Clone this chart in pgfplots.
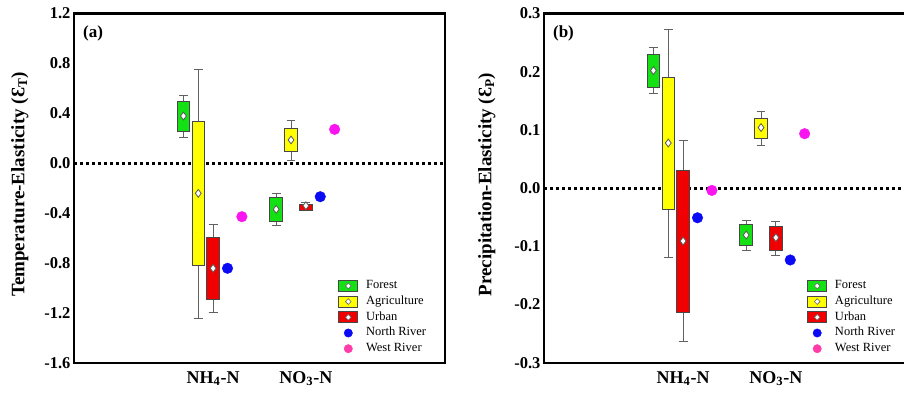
\documentclass[border=0pt]{standalone}
\usepackage{fontspec}
\setmainfont{Liberation Serif}
\usepackage{pgfplots}
\pgfplotsset{compat=1.18}
\usepgfplotslibrary{statistics}
\definecolor{fgreen}{RGB}{20,225,20}
\definecolor{fyellow}{RGB}{255,255,0}
\definecolor{fred}{RGB}{240,0,0}
\definecolor{fblue}{RGB}{10,10,245}
\definecolor{fmag}{RGB}{250,20,240}
\definecolor{fpink}{RGB}{255,60,170}
\newcommand\fsz[1]{\fontsize{#1}{#1}\selectfont}
\pgfplotsset{
  common/.style={
    scale only axis, width=371pt, height=349.2pt,
    xmin=-0.5, xmax=3.5,
    xtick={1,2}, xticklabels={NH\textsubscript{4}-N, NO\textsubscript{3}-N},
    major tick length=0pt,
    axis line style={line width=2.4pt},
    yticklabel style={font=\bfseries\fsz{16.5}, /pgf/number format/.cd, fixed, fixed zerofill, precision=1, assume math mode=true},
    xticklabel style={font=\bfseries\fsz{18}, yshift=-5pt},
    ylabel style={font=\bfseries\fsz{19}, anchor=center},
    legend style={draw=none, fill=none, inner sep=0pt, anchor=north west, font=\fsz{12.5},
      nodes={text height=9pt, text depth=3pt, inner sep=1.85pt},
      /tikz/every odd column/.append style={column sep=6pt}},
    legend cell align=left,
    boxplot/every median/.style={draw=none},
    boxplot/every whisker/.style={draw=black!62, line width=1pt},
  },
  bx/.style={forget plot, draw=black!72, line width=0.9pt, solid,
    boxplot prepared={draw direction=y, box extend=0.135, whisker extend=0.095, #1}},
  meanmk/.style={forget plot, only marks, mark=diamond*, mark size=3.9pt,
    mark options={fill=white, draw=black!65, line width=0.8pt}},
  north/.style={forget plot, only marks, mark=*, mark size=5.3pt, color=fblue},
  west/.style={forget plot, only marks, mark=*, mark size=5.3pt, color=fmag},
  legbox/.style={legend image code/.code={
     \draw[fill=#1, draw=black!72, line width=0.9pt] (0pt,-5.5pt) rectangle (19pt,5.5pt);
     \draw[fill=white, draw=black!60, line width=0.6pt] (9.5pt,2.9pt) -- (12.3pt,0pt) -- (9.5pt,-2.9pt) -- (6.7pt,0pt) -- cycle;}},
  legdot/.style={legend image code/.code={
     \fill[#1] (9.5pt,0pt) circle (4.2pt);}},
}
\begin{document}
\begin{tikzpicture}
\path[use as bounding box] (0pt,0pt) rectangle (904pt,399pt);
\clip (0pt,0pt) rectangle (904pt,399pt);
% ---------------- panel (a)
\begin{axis}[common, at={(74pt,36.3pt)}, anchor=south west,
  ymin=-1.6, ymax=1.2, ytick={-1.6,-1.2,-0.8,-0.4,0,0.4,0.8,1.2},
  ylabel={Temperature-Elasticity (Ɛ\textsubscript{T})},
  ylabel style={at={(axis description cs:-0.146,0.51)}},
  legend style={at={(0.712,0.243)}}]
\addplot[forget plot, black, line width=2.8pt, dash pattern=on 2.8pt off 3.2pt] coordinates {(-0.5,0) (3.5,0)};
\addplot[bx={draw position=0.68, lower whisker=0.204, lower quartile=0.258, median=0.378, upper quartile=0.493, upper whisker=0.541}, fill=fgreen] coordinates {};
\addplot[bx={draw position=0.84, lower whisker=-1.244, lower quartile=-0.817, median=-0.242, upper quartile=0.335, upper whisker=0.753}, fill=fyellow] coordinates {};
\addplot[bx={draw position=1.0, lower whisker=-1.196, lower quartile=-1.089, median=-0.843, upper quartile=-0.598, upper whisker=-0.491}, fill=fred] coordinates {};
\addplot[bx={draw position=1.68, lower whisker=-0.499, lower quartile=-0.467, median=-0.370, upper quartile=-0.277, upper whisker=-0.245}, fill=fgreen] coordinates {};
\addplot[bx={draw position=1.84, lower whisker=0.023, lower quartile=0.092, median=0.186, upper quartile=0.276, upper whisker=0.340}, fill=fyellow] coordinates {};
\addplot[bx={draw position=2.0, lower whisker=-0.376, lower quartile=-0.376, median=-0.341, upper quartile=-0.328, upper whisker=-0.314}, fill=fred] coordinates {};
\addplot[meanmk] coordinates {(0.68,0.378) (0.84,-0.242) (1.0,-0.843) (1.68,-0.370) (1.84,0.186) (2.0,-0.341)};
\addplot[north] coordinates {(1.155,-0.843) (2.155,-0.269)};
\addplot[west] coordinates {(1.31,-0.429) (2.31,0.271)};
\node[anchor=west, inner sep=0pt, font=\bfseries\fsz{17}] at (axis description cs:0.024,0.944) {(a)};
\addlegendimage{legbox=fgreen}\addlegendentry{Forest}
\addlegendimage{legbox=fyellow}\addlegendentry{Agriculture}
\addlegendimage{legbox=fred}\addlegendentry{Urban}
\addlegendimage{legdot=fblue}\addlegendentry{North River}
\addlegendimage{legdot=fpink}\addlegendentry{West River}
\end{axis}
% ---------------- panel (b)
\begin{axis}[common, at={(544pt,36.3pt)}, anchor=south west,
  ymin=-0.3, ymax=0.3, ytick={-0.3,-0.2,-0.1,0,0.1,0.2,0.3},
  ylabel={Precipitation-Elasticity (Ɛ\textsubscript{P})},
  ylabel style={at={(axis description cs:-0.154,0.51)}},
  legend style={at={(0.709,0.243)}}]
\addplot[forget plot, black, line width=2.8pt, dash pattern=on 2.8pt off 3.2pt] coordinates {(-0.5,0) (3.5,0)};
\addplot[bx={draw position=0.68, lower whisker=0.162, lower quartile=0.173, median=0.202, upper quartile=0.230, upper whisker=0.241}, fill=fgreen] coordinates {};
\addplot[bx={draw position=0.84, lower whisker=-0.119, lower quartile=-0.037, median=0.0775, upper quartile=0.190, upper whisker=0.273}, fill=fyellow] coordinates {};
\addplot[bx={draw position=1.0, lower whisker=-0.264, lower quartile=-0.214, median=-0.091, upper quartile=0.030, upper whisker=0.081}, fill=fred] coordinates {};
\addplot[bx={draw position=1.68, lower whisker=-0.107, lower quartile=-0.099, median=-0.0806, upper quartile=-0.062, upper whisker=-0.0565}, fill=fgreen] coordinates {};
\addplot[bx={draw position=1.84, lower whisker=0.073, lower quartile=0.085, median=0.104, upper quartile=0.119, upper whisker=0.131}, fill=fyellow] coordinates {};
\addplot[bx={draw position=2.0, lower whisker=-0.116, lower quartile=-0.107, median=-0.085, upper quartile=-0.066, upper whisker=-0.058}, fill=fred] coordinates {};
\addplot[meanmk] coordinates {(0.68,0.202) (0.84,0.0775) (1.0,-0.091) (1.68,-0.0806) (1.84,0.104) (2.0,-0.085)};
\addplot[north] coordinates {(1.155,-0.051) (2.155,-0.1235)};
\addplot[west] coordinates {(1.31,-0.004) (2.31,0.0935)};
\node[anchor=west, inner sep=0pt, font=\bfseries\fsz{17}] at (axis description cs:0.024,0.944) {(b)};
\addlegendimage{legbox=fgreen}\addlegendentry{Forest}
\addlegendimage{legbox=fyellow}\addlegendentry{Agriculture}
\addlegendimage{legbox=fred}\addlegendentry{Urban}
\addlegendimage{legdot=fblue}\addlegendentry{North River}
\addlegendimage{legdot=fpink}\addlegendentry{West River}
\end{axis}
\end{tikzpicture}
\end{document}
